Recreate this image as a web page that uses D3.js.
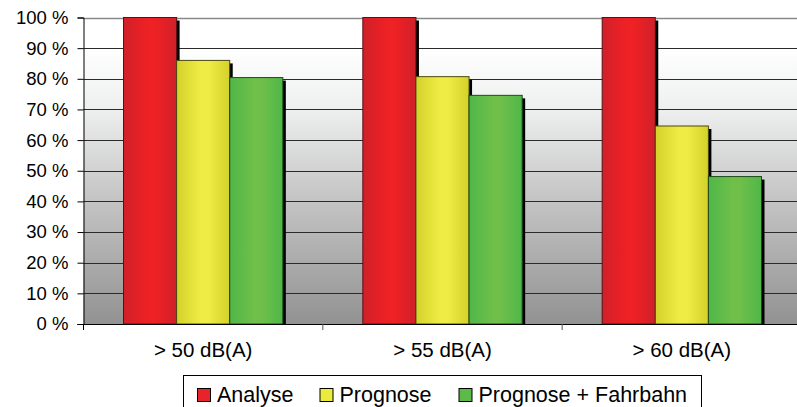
<!DOCTYPE html>
<html>
<head>
<meta charset="utf-8">
<script src="https://cdn.jsdelivr.net/npm/d3@7"></script>
<style>
  html, body { margin: 0; padding: 0; background: #fff; }
  svg { display: block; font-family: "Liberation Sans", Arial, sans-serif; }
</style>
</head>
<body>
<svg id="chart" width="797" height="407"></svg>
<script>
// Share of affected area per noise threshold
const categories = ["> 50 dB(A)", "> 55 dB(A)", "> 60 dB(A)"];
const seriesNames = ["Analyse", "Prognose", "Prognose + Fahrbahn"];
const analyse = [100, 100, 100];
const prognose = [86, 80.7, 64.6];
const prognoseFahrbahn = [80.4, 74.6, 48.1];
const yTicks = [0, 10, 20, 30, 40, 50, 60, 70, 80, 90, 100];

const seriesValues = [analyse, prognose, prognoseFahrbahn];
// edge / centre tones for the cylindrical shading of each series
const palette = [
  { edge: "#d0202a", mid: "#ee2124", stroke: "#5a0f12", key: "#e8232a" },
  { edge: "#d4d22a", mid: "#efec45", stroke: "#4a4810", key: "#ecea3c" },
  { edge: "#4fb748", mid: "#6fbf4a", stroke: "#1f4a18", key: "#5cba48" }
];

const svg = d3.select("#chart");
const margin = { left: 83.5, top: 17.5, right: 801.5, bottom: 324 };

const x0 = d3.scaleBand().domain(categories).range([margin.left, margin.right]).padding(0);
const x1 = d3.scaleBand().domain(seriesNames).range([40, x0.bandwidth() - 40]).padding(0);
const y = d3.scaleLinear().domain([0, 100]).range([margin.bottom, margin.top]);

const defs = svg.append("defs");

// plot background: white at top fading to grey
const bg = defs.append("linearGradient").attr("id", "bg").attr("x1", 0).attr("y1", 0).attr("x2", 0).attr("y2", 1);
[[0, "#ffffff"], [0.1, "#ffffff"], [0.3, "#eeefef"], [0.55, "#cacaca"], [1, "#929292"]]
  .forEach(([o, c]) => bg.append("stop").attr("offset", o).attr("stop-color", c));

palette.forEach((p, i) => {
  const g = defs.append("linearGradient").attr("id", "bar" + i).attr("x1", 0).attr("y1", 0).attr("x2", 1).attr("y2", 0);
  [[0, p.edge], [0.45, p.mid], [0.6, p.mid], [1, p.edge]]
    .forEach(([o, c]) => g.append("stop").attr("offset", o).attr("stop-color", c));
});

svg.append("rect")
  .attr("x", margin.left).attr("y", y(100))
  .attr("width", margin.right - margin.left).attr("height", y(0) - y(100))
  .attr("fill", "url(#bg)");

// horizontal gridlines
svg.append("g").selectAll("line").data(yTicks.filter(d => d > 0)).join("line")
  .attr("x1", margin.left).attr("x2", margin.right)
  .attr("y1", d => Math.round(y(d)) + 0.5).attr("y2", d => Math.round(y(d)) + 0.5)
  .attr("stroke", d => d === 100 ? "#8a8a8a" : "#2a2a2a")
  .attr("stroke-width", d => d === 100 ? 1.5 : 1);

// bars
const groups = svg.append("g").selectAll("g").data(categories).join("g")
  .attr("transform", d => `translate(${x0(d)},0)`);

const barData = (c, ci) => seriesNames.map((s, si) => ({ s, si, v: seriesValues[si][ci] }));

groups.each(function (c, ci) {
  const g = d3.select(this);
  const data = barData(c, ci);
  // drop shadows
  g.selectAll("rect.shadow").data(data).join("rect").attr("class", "shadow")
    .attr("x", d => x1(d.s) + 3).attr("y", d => y(d.v) + 3)
    .attr("width", x1.bandwidth()).attr("height", d => y(0) - y(d.v) - 3)
    .attr("fill", "#000");
});
groups.each(function (c, ci) {
  const g = d3.select(this);
  const data = barData(c, ci);
  g.selectAll("rect.bar").data(data).join("rect").attr("class", "bar")
    .attr("x", d => x1(d.s)).attr("y", d => y(d.v))
    .attr("width", x1.bandwidth()).attr("height", d => y(0) - y(d.v))
    .attr("fill", d => `url(#bar${d.si})`)
    .attr("stroke", d => palette[d.si].stroke).attr("stroke-width", 1);
});

// y axis
const yAxis = d3.axisLeft(y).tickValues(yTicks).tickSize(6).tickPadding(9).tickFormat(d => d + " %");
const ya = svg.append("g").attr("transform", `translate(${margin.left},0)`).call(yAxis);
ya.select(".domain").attr("stroke", "#000");
ya.selectAll(".tick line").attr("stroke", "#000");
ya.selectAll("text").attr("font-size", 18.5).attr("fill", "#000")
  .attr("font-family", "Liberation Sans, Arial, sans-serif");

// x axis
const xAxis = d3.axisBottom(x0).tickSize(0).tickPadding(0);
const xa = svg.append("g").attr("transform", `translate(0,${y(0)})`).call(xAxis);
xa.select(".domain").remove();
xa.append("line").attr("x1", margin.left - 6).attr("x2", margin.right).attr("y1", 0.5).attr("y2", 0.5).attr("stroke", "#000");
xa.selectAll(".tickmark").data([1, 2, 3]).join("line").attr("class", "tickmark")
  .attr("x1", i => margin.left + x0.bandwidth() * i).attr("x2", i => margin.left + x0.bandwidth() * i)
  .attr("y1", 0).attr("y2", 6).attr("stroke", "#555");
xa.append("line").attr("x1", margin.left).attr("x2", margin.left).attr("y1", 0).attr("y2", 6).attr("stroke", "#000");
xa.selectAll(".tick text").attr("y", 33).attr("dy", 0).attr("font-size", 20.5).attr("fill", "#000")
  .attr("font-family", "Liberation Sans, Arial, sans-serif");

// legend
const legend = svg.append("g");
legend.append("rect").attr("x", 183.5).attr("y", 375.5).attr("width", 518).attr("height", 40)
  .attr("fill", "#fff").attr("stroke", "#000");
const legendX = [197, 319.5, 458.5];
seriesNames.forEach((s, i) => {
  legend.append("rect").attr("x", legendX[i] + 0.5).attr("y", 388.5).attr("width", 13).attr("height", 13)
    .attr("fill", palette[i].key).attr("stroke", "#000");
  legend.append("text").attr("x", legendX[i] + 20).attr("y", 402)
    .attr("font-size", 21.5).attr("fill", "#000").text(s);
});
</script>
</body>
</html>
